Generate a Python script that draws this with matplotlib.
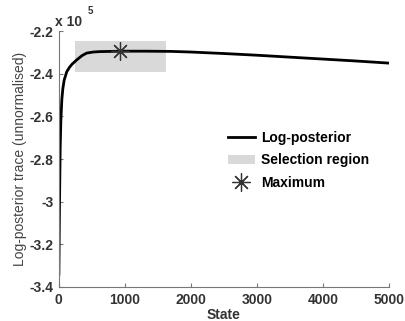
import numpy as np
import matplotlib.pyplot as plt
from matplotlib.patches import Patch
from matplotlib.lines import Line2D

# trace values (x 10^5)
state = [0, 10, 20, 30, 45, 60, 80, 100, 120, 160, 200, 270, 350, 420, 520, 620,
         800, 1000, 1300, 1700, 2000, 2500, 3000, 3500, 4000, 4500, 5000]
logpost = [-3.34, -3.0, -2.75, -2.62, -2.52, -2.47, -2.43, -2.41, -2.39, -2.37,
           -2.355, -2.335, -2.315, -2.303, -2.298, -2.296, -2.295, -2.294,
           -2.294, -2.295, -2.298, -2.305, -2.313, -2.322, -2.331, -2.34, -2.35]

sel_x = [240, 1620]
sel_y = [-2.393, -2.247]
max_state = 920
max_val = -2.293

yticks = [-2.2, -2.4, -2.6, -2.8, -3, -3.2, -3.4]
ytick_labels = ['-2.2', '-2.4', '-2.6', '-2.8', '-3', '-3.2', '-3.4']
xticks = [0, 1000, 2000, 3000, 4000, 5000]

plt.rcParams['font.family'] = ['Liberation Sans', 'DejaVu Sans']

fig = plt.figure(figsize=(4.06, 3.21), dpi=100)
ax = fig.add_axes([0.145, 0.106, 0.813, 0.797])

ax.fill_between(sel_x, sel_y[0], sel_y[1], color='#d9d9d9', lw=0, zorder=1)
ax.plot(state, logpost, color='black', lw=2, zorder=2)
ax.plot([max_state], [max_val], marker=(8, 2, 0), ms=13, mew=0.9,
        color='#333333', ls='none', zorder=3)

ax.set_xlim(0, 5000)
ax.set_ylim(-3.4, -2.2)
ax.set_xticks(xticks)
ax.set_xticklabels([str(t) for t in xticks], fontweight='bold', fontsize=10)
ax.set_yticks(yticks)
ax.set_yticklabels(ytick_labels, fontweight='bold', fontsize=10)
ax.tick_params(direction='in', length=3, color='#777777', labelcolor='#333333', pad=4)
for s in ['top', 'right']:
    ax.spines[s].set_visible(False)
for s in ['left', 'bottom']:
    ax.spines[s].set_color('#777777')
    ax.spines[s].set_linewidth(0.8)

ax.set_xlabel('State', fontweight='bold', fontsize=10, color='#333333', labelpad=1)
ax.set_ylabel('Log-posterior trace (unnormalised)', fontsize=10, color='#444444', labelpad=2)

fig.text(0.135, 0.918, 'x 10', fontsize=10, fontweight='bold', color='#333333')
fig.text(0.215, 0.955, '5', fontsize=7, fontweight='bold', color='#333333')

handles = [Line2D([], [], color='black', lw=2),
           Patch(facecolor='#d9d9d9', edgecolor='none'),
           Line2D([], [], marker=(8, 2, 0), ms=13, mew=0.9, color='#333333', ls='none')]
labels = ['Log-posterior', 'Selection region', 'Maximum']
leg = ax.legend(handles, labels, loc='upper left', bbox_to_anchor=(0.475, 0.66),
                frameon=False, prop={'weight': 'bold', 'size': 10},
                handlelength=1.9, handletextpad=0.5, labelspacing=0.62)

fig.savefig('out.png', dpi=100)
